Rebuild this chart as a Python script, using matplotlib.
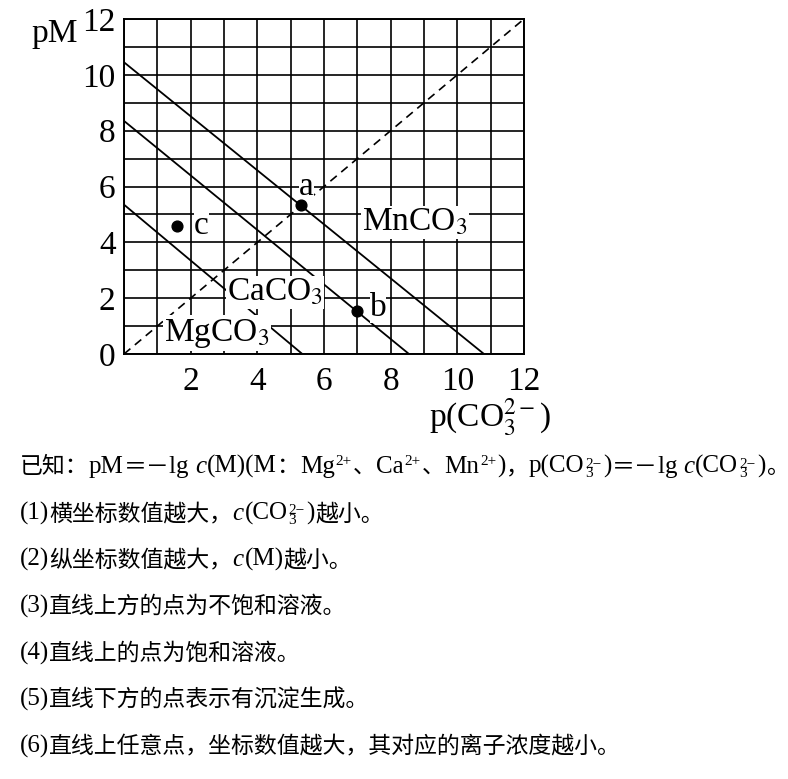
import numpy as np
import matplotlib
matplotlib.use("Agg")
import matplotlib.pyplot as plt

plt.rcParams['font.family'] = ['Liberation Serif', 'Noto Sans CJK SC']
plt.rcParams['mathtext.fontset'] = 'stix'

# Ksp lines: pM intercept (at pCO3=0) and pCO3 intercept (at pM=0)
salts = ['MnCO$_3$', 'CaCO$_3$', 'MgCO$_3$']
pm_start = [10.45, 8.35, 5.35]
pco3_end = [10.8, 8.55, 5.35]
salt_lx = [8.73, 4.53, 2.79]
salt_ly = [4.72, 2.21, 0.75]

# marked points
pt_names = ['a', 'b', 'c']
pt_x = [5.3, 7.0, 1.6]
pt_y = [5.35, 1.55, 4.6]
pt_lx = [5.48, 7.62, 2.32]
pt_ly = [6.0, 1.65, 4.58]

xticks = list(range(0, 13))
xlabels = ['' if (v == 0 or v % 2) else str(v) for v in xticks]
ylabels = ['' if v % 2 else str(v) for v in xticks]

# note lines: plain strings, ('it', s) italic, ('sup', s), ('subsup', sub, sup)
notes = [
    ["已知：pM＝－lg ", ('it', 'c'), "(M)(M：Mg", ('sup', '2+'), "、Ca", ('sup', '2+'), "、Mn",
     ('sup', '2+'), ")，p(CO", ('subsup', '3', '2−'), ")＝－lg ", ('it', 'c'), "(CO",
     ('subsup', '3', '2−'), ")。"],
    ["(1)横坐标数值越大，", ('it', 'c'), "(CO", ('subsup', '3', '2−'), ")越小。"],
    ["(2)纵坐标数值越大，", ('it', 'c'), "(M)越小。"],
    ["(3)直线上方的点为不饱和溶液。"],
    ["(4)直线上的点为饱和溶液。"],
    ["(5)直线下方的点表示有沉淀生成。"],
    ["(6)直线上任意点，坐标数值越大，其对应的离子浓度越小。"],
]

W, H = 788, 779
fig = plt.figure(figsize=(W / 100, H / 100), dpi=100)
ax = fig.add_axes([124 / W, 1 - 354 / H, 400 / W, 335 / H])

ax.set_xlim(0, 12)
ax.set_ylim(0, 12)
ax.set_xticks(xticks)
ax.set_yticks(xticks)
ax.set_xticklabels(xlabels, fontsize=24)
ax.set_yticklabels(ylabels, fontsize=24)
ax.tick_params(length=0, pad=6)
ax.tick_params(axis='x', pad=9)
ax.grid(True, color='black', lw=1.2)
for s in ax.spines.values():
    s.set_linewidth(1.4)

# dashed diagonal pM = p(CO3)
ax.plot([0, 12], [0, 12], color='black', lw=1.2, ls=(0, (5, 3.5)))

for i in range(3):
    ax.plot([0, pco3_end[i]], [pm_start[i], 0], color='black', lw=1.3, solid_capstyle='butt')
    ax.text(salt_lx[i], salt_ly[i], salts[i], fontsize=24, ha='center', va='center',
            bbox=dict(facecolor='white', edgecolor='none', pad=1))

ax.scatter(pt_x, pt_y, s=60, color='black', zorder=5, clip_on=False)
for i in range(3):
    ax.text(pt_lx[i], pt_ly[i], pt_names[i], fontsize=24, ha='center', va='center',
            bbox=dict(facecolor='white', edgecolor='none', pad=0))

ax.text(-0.115, 0.931, 'pM', transform=ax.transAxes, fontsize=24, ha='right', va='baseline')
ax.text(0.915, -0.19, 'p(CO$_3^{2-}$)', transform=ax.transAxes, fontsize=24,
        ha='center', va='center')

fig.canvas.draw()
renderer = fig.canvas.get_renderer()

LAT = 18
CJK = 16.5
SMALL = 11


def is_cjk(ch):
    return ord(ch) >= 0x2E80


def put(x, y, s, **kw):
    # x, y in pixels from top-left; returns advance width in pixels
    t = fig.text(x / W, 1 - y / H, s, ha='left', va='baseline', **kw)
    return t.get_window_extent(renderer).width


def draw_plain(x, y, s):
    cur = ''
    for ch in s + '\0':
        if cur and (ch == '\0' or is_cjk(ch) != is_cjk(cur[-1])):
            if is_cjk(cur[-1]):
                x += put(x, y, cur, fontsize=CJK, family=['Noto Sans CJK SC'])
            else:
                x += put(x, y, cur, fontsize=LAT, family=['Liberation Serif'])
            cur = ''
        cur += ch
    return x


line_y = [473, 520, 566, 613, 660, 706, 753]
for runs, yb in zip(notes, line_y):
    x = 20
    for r in runs:
        if isinstance(r, str):
            x = draw_plain(x, yb, r)
        elif r[0] == 'it':
            x += put(x, yb, r[1], fontsize=LAT, family=['Liberation Serif'], style='italic') + 1
        elif r[0] == 'sup':
            x += put(x + 1, yb - 8, r[1], fontsize=SMALL, family=['Liberation Serif']) + 2
        else:
            # stacked sub/superscript as one two-line text
            x += put(x + 1, yb + 4, r[2] + '\n' + r[1], fontsize=SMALL,
                     family=['Liberation Serif'], linespacing=0.65) + 3

fig.savefig('out.png', dpi=100)
